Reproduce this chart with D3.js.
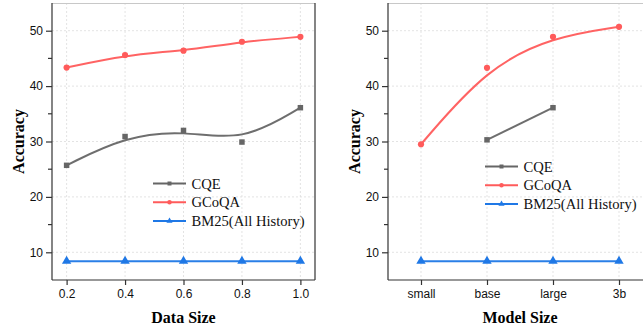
<!DOCTYPE html>
<html><head><meta charset="utf-8">
<script src="https://cdn.jsdelivr.net/npm/d3@7"></script>
<style>body{margin:0;background:#fff}svg{display:block}</style>
</head><body>
<svg id="chart" width="643" height="330"></svg>
<script>
// ---- data ----
const dataSizes = [0.2, 0.4, 0.6, 0.8, 1.0];
const dsCQE   = [25.7, 30.9, 32.0, 29.9, 36.1];
const dsGCoQA = [43.35, 45.6, 46.4, 48.0, 48.9];
const dsBM25  = [8.4, 8.4, 8.4, 8.4, 8.4];

const modelSizes = ["small", "base", "large", "3b"];
const msCQE   = [null, 30.3, 36.1, null];
const msGCoQA = [29.5, 43.3, 48.9, 50.7];
const msBM25  = [8.4, 8.4, 8.4, 8.4];

const yTicks = [10, 20, 30, 40, 50];
const yMinor = [15, 25, 35, 45];
const xTicksData = [0.2, 0.4, 0.6, 0.8, 1.0];
const seriesNames = ["CQE", "GCoQA", "BM25(All History)"];

const colors = {CQE: "#666666", GCoQA: "#ff5b5b", BM25: "#1f78e6"};
const svg = d3.select("#chart");
const serif = "'Liberation Serif','Times New Roman',serif";
const sans = "'Liberation Sans',Arial,sans-serif";

function panel(cfg) {
  const g = svg.append("g");
  const x = cfg.x, y = d3.scaleLinear().domain([5, 55]).range([280, 3]);
  const [x0, x1] = x.range();
  // grid
  g.append("g").selectAll("line").data(yTicks).join("line")
    .attr("x1", x0).attr("x2", Math.min(x1, 643)).attr("y1", d => y(d)).attr("y2", d => y(d))
    .attr("stroke", "#dcdcdc").attr("stroke-width", 0.8).attr("stroke-dasharray", "2,2");
  g.append("g").selectAll("line").data(cfg.xTicks).join("line")
    .attr("x1", d => cfg.xpos(d)).attr("x2", d => cfg.xpos(d)).attr("y1", 3).attr("y2", 280)
    .attr("stroke", "#dcdcdc").attr("stroke-width", 0.8).attr("stroke-dasharray", "2,2");
  // top border
  g.append("line").attr("x1", x0).attr("x2", Math.min(x1, 643)).attr("y1", 3.5).attr("y2", 3.5)
    .attr("stroke", "#c8c8c8").attr("stroke-width", 1);
  if (x1 < 643) g.append("line").attr("x1", x1).attr("x2", x1).attr("y1", 3).attr("y2", 280)
    .attr("stroke", "#333").attr("stroke-width", 1.2);
  // axes
  const ya = g.append("g").attr("transform", `translate(${x0},0)`)
    .call(d3.axisLeft(y).tickValues(yTicks).tickSize(6).tickPadding(3).tickFormat(d3.format("d")));
  ya.selectAll(".tick.minor").remove();
  g.append("g").selectAll("line").data(yMinor).join("line")
    .attr("x1", x0 - 4).attr("x2", x0).attr("y1", d => y(d)).attr("y2", d => y(d))
    .attr("stroke", "#333").attr("stroke-width", 1.2);
  const xa = g.append("g").attr("transform", "translate(0,280)")
    .call(cfg.axis.tickSize(5).tickPadding(4));
  [ya, xa].forEach(a => {
    a.select(".domain").attr("stroke", "#333").attr("stroke-width", 1.2);
    a.selectAll(".tick line").attr("stroke", "#333").attr("stroke-width", 1.2);
    a.selectAll("text").attr("font-family", sans).attr("font-size", 12).attr("fill", "#111");
  });
  ya.select(".domain").attr("d", `M0,3V280`);
  xa.select(".domain").attr("d", `M${x0},0H${Math.min(x1, 643)}`);
  // titles
  g.append("text").attr("x", (x0 + (cfg.titleRight || x1)) / 2).attr("y", 323)
    .attr("text-anchor", "middle").attr("font-family", serif).attr("font-weight", "bold")
    .attr("font-size", 16).text(cfg.xTitle);
  g.append("text").attr("transform", `translate(${x0 - 28},141.5) rotate(-90)`)
    .attr("text-anchor", "middle").attr("font-family", serif).attr("font-weight", "bold")
    .attr("font-size", 16).text("Accuracy");
  // series
  const series = [
    {name: "BM25", vals: cfg.bm25, curve: d3.curveLinear, sym: d3.symbolTriangle},
    {name: "CQE", vals: cfg.cqe, curve: cfg.cqeCurve, sym: d3.symbolSquare},
    {name: "GCoQA", vals: cfg.gcoqa, curve: d3.curveBasis, sym: d3.symbolCircle},
  ];
  series.forEach(s => {
    const pts = cfg.cats.map((c, i) => [c, s.vals[i]]).filter(p => p[1] != null);
    g.append("path").attr("d", d3.line().x(p => cfg.xpos(p[0])).y(p => y(p[1])).curve(s.curve)(pts))
      .attr("fill", "none").attr("stroke", colors[s.name]).attr("stroke-width", 2).attr("opacity", 0.95);
    g.append("g").selectAll("path").data(pts).join("path")
      .attr("transform", p => `translate(${cfg.xpos(p[0])},${y(p[1])})`)
      .attr("d", d3.symbol().type(s.sym).size(s.name === "BM25" ? 38 : 30))
      .attr("fill", colors[s.name]);
  });
  // legend
  const lg = g.append("g");
  const keys = ["CQE", "GCoQA", "BM25"], syms = [d3.symbolSquare, d3.symbolCircle, d3.symbolTriangle];
  keys.forEach((k, i) => {
    const ly = cfg.legY + i * cfg.legStep;
    lg.append("line").attr("x1", cfg.legX).attr("x2", cfg.legX + 33).attr("y1", ly).attr("y2", ly)
      .attr("stroke", colors[k]).attr("stroke-width", 2);
    lg.append("path").attr("transform", `translate(${cfg.legX + 16.5},${ly})`)
      .attr("d", d3.symbol().type(syms[i]).size(16)).attr("fill", colors[k]);
    lg.append("text").attr("x", cfg.legX + 38.5).attr("y", ly + 5).attr("font-family", serif)
      .attr("font-size", 14.6).attr("fill", "#111").text(seriesNames[i]);
  });
}

const xl = d3.scaleLinear().domain([0.15, 1.05]).range([52, 315]);
panel({x: xl, xpos: d => xl(d), xTicks: xTicksData, cats: dataSizes,
  axis: d3.axisBottom(xl).tickValues(xTicksData).tickFormat(d3.format(".1f")),
  cqe: dsCQE, gcoqa: dsGCoQA, bm25: dsBM25, cqeCurve: d3.curveBasis,
  xTitle: "Data Size", legX: 153, legY: 183.5, legStep: 18.8});

const xr = d3.scalePoint().domain(modelSizes).range([388, 652]).padding(0.5);
panel({x: xr, xpos: d => xr(d), xTicks: modelSizes, cats: modelSizes,
  axis: d3.axisBottom(xr),
  cqe: msCQE, gcoqa: msGCoQA, bm25: msBM25, cqeCurve: d3.curveLinear,
  xTitle: "Model Size", titleRight: 652, legX: 485, legY: 166.5, legStep: 18.8});
</script>
</body></html>
